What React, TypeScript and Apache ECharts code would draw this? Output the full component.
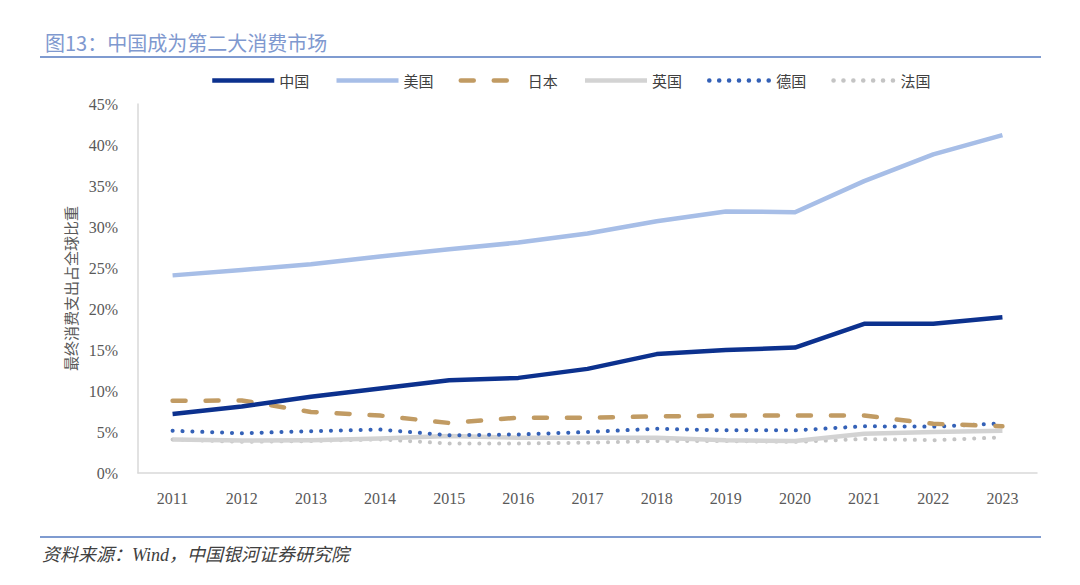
import React, { useEffect, useRef } from "react";
import * as echarts from "echarts";

const years = ["2011", "2012", "2013", "2014", "2015", "2016", "2017", "2018", "2019", "2020", "2021", "2022", "2023"];
const china = [7.2, 8.1, 9.3, 10.3, 11.3, 11.6, 12.7, 14.5, 15.0, 15.3, 18.2, 18.2, 19.0];
const usa = [24.1, 24.75, 25.45, 26.4, 27.3, 28.1, 29.2, 30.7, 31.9, 31.8, 35.6, 38.85, 41.2];
const japan = [8.8, 8.85, 7.45, 7.0, 6.1, 6.75, 6.75, 6.9, 7.0, 7.0, 7.0, 6.0, 5.7];
const uk = [4.1, 3.95, 4.0, 4.2, 4.5, 4.3, 4.3, 4.3, 4.0, 3.9, 4.8, 5.0, 5.15];
const germany = [5.15, 4.85, 5.1, 5.3, 4.6, 4.7, 5.0, 5.4, 5.2, 5.2, 5.7, 5.65, 6.05];
const france = [4.1, 3.8, 3.9, 4.1, 3.6, 3.6, 3.7, 3.9, 3.9, 3.8, 4.15, 4.0, 4.35];
const yTicks = { min: 0, max: 45, interval: 5 };

const SERIF = "'Liberation Serif', 'Noto Sans CJK SC', serif";
const CJK = "'Noto Sans CJK SC', 'Liberation Serif', sans-serif";

export default function App() {
  const ref = useRef<HTMLDivElement>(null);
  useEffect(() => {
    if (!ref.current) return;
    const chart = echarts.init(ref.current, null, { renderer: "svg" });
    const line = (name: string, data: number[], color: string, type: any, width: number, cap: any = "butt") => ({
      name,
      type: "line",
      data,
      showSymbol: false,
      symbol: "none",
      lineStyle: { color, width, type, cap, join: "round" },
      itemStyle: { color },
    });
    chart.setOption({
      animation: false,
      backgroundColor: "#ffffff",
      title: {
        text: "图13：中国成为第二大消费市场",
        left: 40,
        top: 27,
        textStyle: { color: "#7f99cf", fontSize: 20, fontWeight: "normal", fontFamily: CJK },
      },
      graphic: [
        { type: "line", shape: { x1: 40, y1: 57, x2: 1041, y2: 57 }, style: { stroke: "#7f9bd0", lineWidth: 2 } },
        { type: "line", shape: { x1: 40, y1: 537, x2: 1041, y2: 537 }, style: { stroke: "#7f9bd0", lineWidth: 2 } },
        {
          type: "text",
          left: 42,
          top: 546,
          style: {
            text: "资料来源：Wind，中国银河证券研究院",
            fill: "#404040",
            fontSize: 18,
            fontStyle: "italic",
            fontFamily: SERIF,
          },
        },
      ],
      legend: {
        left: 205,
        top: 68,
        itemWidth: 62,
        itemHeight: 14,
        itemGap: 25,
        itemStyle: { opacity: 0 },
        lineStyle: { width: 4.5 },
        textStyle: { color: "#404040", fontSize: 15, fontFamily: CJK },
        data: ["中国", "美国", "日本", "英国", "德国", "法国"],
      },
      grid: { left: 138, right: 43, top: 104, bottom: 112 },
      xAxis: {
        type: "category",
        data: years,
        boundaryGap: true,
        axisLine: { lineStyle: { color: "#d9d9d9", width: 1.5 } },
        axisTick: { show: false },
        axisLabel: { color: "#595959", fontSize: 16, fontFamily: SERIF, margin: 17 },
      },
      yAxis: {
        type: "value",
        min: yTicks.min,
        max: yTicks.max,
        interval: yTicks.interval,
        name: "最终消费支出占全球比重",
        nameLocation: "middle",
        nameRotate: 90,
        nameGap: 55,
        nameTextStyle: { color: "#595959", fontSize: 15, fontFamily: CJK },
        axisLine: { show: true, lineStyle: { color: "#d9d9d9", width: 1.5 } },
        axisTick: { show: false },
        splitLine: { show: false },
        axisLabel: { color: "#595959", fontSize: 16, fontFamily: SERIF, formatter: "{value}%", margin: 20 },
      },
      series: [
        line("法国", france, "#c4c4c4", [0.1, 9.8], 4, "round"),
        line("英国", uk, "#d3d3d3", "solid", 4.5),
        line("德国", germany, "#3461b7", [0.1, 9.8], 4, "round"),
        line("日本", japan, "#c19b63", [13, 20], 4.5, "round"),
        line("美国", usa, "#a7bee7", "solid", 4.5),
        line("中国", china, "#0c318e", "solid", 4.5),
      ],
    });
    return () => chart.dispose();
  }, []);
  return <div ref={ref} style={{ position: "fixed", left: 0, top: 0, width: 1080, height: 585 }} />;
}
